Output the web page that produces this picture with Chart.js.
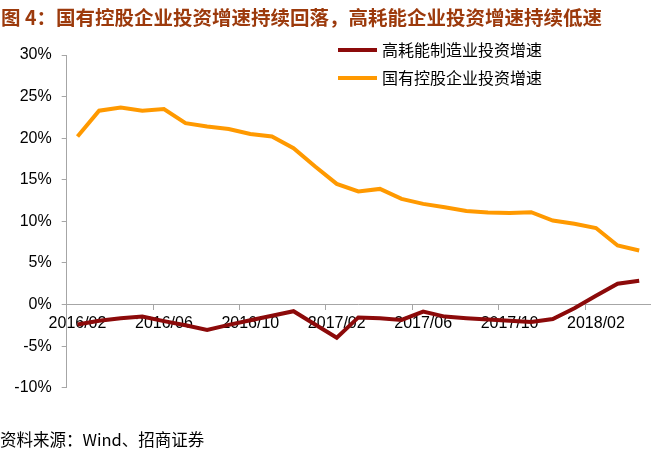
<!DOCTYPE html>
<html>
<head>
<meta charset="utf-8">
<script src="https://cdn.jsdelivr.net/npm/chart.js@4"></script>
<style>
  body { margin: 0; background: #fff; }
  #wrap { position: relative; width: 652px; height: 449px; overflow: hidden; }
  #chart { position: absolute; left: 0; top: 0; }
  .title { position: absolute; left: 1px; top: 2px; font: bold 19.5px "Noto Sans CJK SC", sans-serif; color: #9C3A0C; white-space: nowrap; }
  .leg { position: absolute; left: 338px; height: 20px; font: 16px "Noto Sans CJK SC", sans-serif; color: #000; white-space: nowrap; }
  .leg i { position: absolute; left: 0; top: 8px; width: 39px; height: 4px; }
  .leg span { position: absolute; left: 44px; top: -2px; line-height: 22px; }
  .src { position: absolute; left: 0; top: 427px; font: 16.5px "Noto Sans CJK SC", sans-serif; color: #000; white-space: nowrap; }
</style>
</head>
<body>
<div id="wrap">
  <canvas id="chart" width="652" height="449"></canvas>
  <div class="title">图 4：国有控股企业投资增速持续回落，高耗能企业投资增速持续低速</div>
  <div class="leg" style="top:40px"><i style="background:#8C0A0A"></i><span>高耗能制造业投资增速</span></div>
  <div class="leg" style="top:68px"><i style="background:#FF9900"></i><span>国有控股企业投资增速</span></div>
  <div class="src">资料来源：Wind、招商证券</div>
</div>
<script>
// 月份（2016/02 - 2018/04）
const months = [
  '2016/02', '2016/03', '2016/04', '2016/05', '2016/06', '2016/07', '2016/08', '2016/09', '2016/10', '2016/11', '2016/12',
  '2017/01', '2017/02', '2017/03', '2017/04', '2017/05', '2017/06', '2017/07', '2017/08', '2017/09', '2017/10', '2017/11', '2017/12',
  '2018/01', '2018/02', '2018/03', '2018/04'
];
// 高耗能制造业投资增速 (%)
const highEnergy = [-2.4, -1.95, -1.65, -1.45, -2.0, -2.5, -3.05, -2.45, -1.9, -1.35, -0.8, -2.4, -4.0, -1.55,
  -1.65, -1.85, -0.85, -1.45, -1.65, -1.8, -1.95, -2.1, -1.75, -0.45, 1.05, 2.5, 2.85];
// 国有控股企业投资增速 (%)
const stateOwned = [20.2, 23.3, 23.7, 23.3, 23.5, 21.8, 21.4, 21.1, 20.5, 20.2, 18.8, 16.6, 14.5, 13.6,
  13.9, 12.7, 12.1, 11.7, 11.25, 11.05, 11.0, 11.1, 10.1, 9.7, 9.2, 7.1, 6.5];
const yTicks = [-10, -5, 0, 5, 10, 15, 20, 25, 30];

const axisGray = '#A6A6A6';
const tickFont = { family: '"Liberation Sans", Arial, sans-serif', size: 16 };

new Chart(document.getElementById('chart').getContext('2d'), {
  type: 'line',
  data: {
    labels: months,
    datasets: [
      { label: '高耗能制造业投资增速', data: highEnergy, borderColor: '#8C0A0A', borderWidth: 4, pointRadius: 0, tension: 0 },
      { label: '国有控股企业投资增速', data: stateOwned, borderColor: '#FF9900', borderWidth: 4, pointRadius: 0, tension: 0 }
    ]
  },
  options: {
    responsive: false,
    animation: false,
    layout: { padding: { left: 6.7, top: 55, right: 2, bottom: 61.3 } },
    plugins: { legend: { display: false }, tooltip: { enabled: false } },
    scales: {
      x: {
        type: 'category',
        position: { y: 0 },
        offset: true,
        border: { color: axisGray, width: 1 },
        grid: {
          offset: true,
          drawOnChartArea: false,
          tickLength: 5,
          color: ctx => (ctx.index % 4 === 0 ? axisGray : 'rgba(0,0,0,0)')
        },
        ticks: {
          autoSkip: false,
          maxRotation: 0,
          padding: 4,
          color: '#000',
          font: tickFont,
          callback: function(v, i) { return i % 4 === 0 ? months[i] : ''; }
        }
      },
      y: {
        min: yTicks[0],
        max: yTicks[yTicks.length - 1],
        afterFit: s => { s.width = 60; },
        afterBuildTicks: s => { s.ticks = yTicks.map(v => ({ value: v })); },
        border: { color: axisGray, width: 1 },
        grid: { drawOnChartArea: false, tickLength: 5, color: axisGray },
        ticks: { padding: 10, color: '#000', font: tickFont, callback: v => v + '%' }
      }
    }
  }
});
</script>
</body>
</html>
